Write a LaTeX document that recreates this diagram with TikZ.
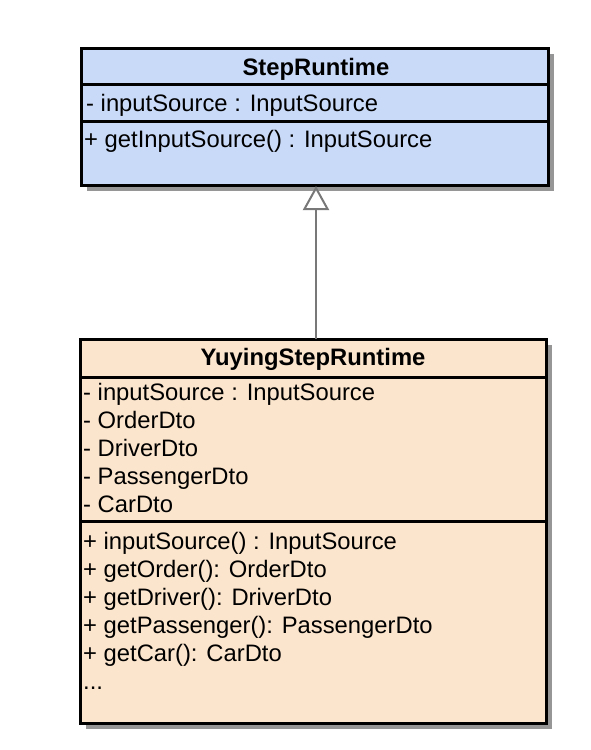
\documentclass[tikz,border=0pt]{standalone}
\usepackage{fontspec}
\setmainfont{Liberation Sans}
\usetikzlibrary{arrows.meta}
\definecolor{topfill}{RGB}{201,218,248}
\definecolor{botfill}{RGB}{252,229,205}
\definecolor{shadowc}{RGB}{150,150,150}
\definecolor{linkc}{RGB}{120,120,120}
\begin{document}
\begin{tikzpicture}[x=1pt,y=-1pt,
  classbox/.style={draw=black,line width=3pt,inner sep=0pt,outer sep=0pt,anchor=north west},
  shadowbox/.style={fill=shadowc,draw=none,inner sep=0pt,outer sep=0pt,anchor=north west},
  member/.style={anchor=base west,inner sep=0pt,font=\fontsize{23.8}{28}\selectfont},
  title/.style={anchor=base,inner sep=0pt,font=\fontsize{23.8}{28}\selectfont\bfseries},
  sep/.style={line width=3pt}]
\useasboundingbox (0,0) rectangle (590,750);
\fill[white] (0,0) rectangle (590,750);
% shadows
\node[shadowbox,minimum width=467pt,minimum height=137pt] (topsh) at (87,54) {};
\node[shadowbox,minimum width=466pt,minimum height=384pt] (botsh) at (86,345) {};
% top class
\node[classbox,fill=topfill,minimum width=467pt,minimum height=137pt] (top) at (81,48) {};
\coordinate (t1) at (81,84); \coordinate (t1e) at (548,84);
\coordinate (t2) at (81,121); \coordinate (t2e) at (548,121);
\draw[sep] (t1) -- (t1e);
\draw[sep] (t2) -- (t2e);
\node[title] (topname) at (316,75) {StepRuntime};
\node[member] (ta1) at (86,111) {- inputSource : InputSource};
\node[member] (tm1) at (84,147) {+ getInputSource() : InputSource};
% bottom class
\node[classbox,fill=botfill,minimum width=466pt,minimum height=384pt] (bot) at (80,339) {};
\coordinate (b1) at (80,377); \coordinate (b1e) at (546,377);
\coordinate (b2) at (80,521); \coordinate (b2e) at (546,521);
\draw[sep] (b1) -- (b1e);
\draw[sep] (b2) -- (b2e);
\node[title] (botname) at (313,365) {YuyingStepRuntime};
\node[member] (ba1) at (83,400) {- inputSource : InputSource};
\node[member] (ba2) at (83,428) {- OrderDto};
\node[member] (ba3) at (83,456) {- DriverDto};
\node[member] (ba4) at (83,484) {- PassengerDto};
\node[member] (ba5) at (83,512) {- CarDto};
\node[member] (bm1) at (83,549) {+ inputSource() : InputSource};
\node[member] (bm2) at (83,577) {+ getOrder(): OrderDto};
\node[member] (bm3) at (83,605) {+ getDriver(): DriverDto};
\node[member] (bm4) at (83,633) {+ getPassenger(): PassengerDto};
\node[member] (bm5) at (83,661) {+ getCar(): CarDto};
\node[member] (bm6) at (83,689) {...};
% generalization
\coordinate (gfrom) at (316,339);
\coordinate (gto) at (316,186);
\draw[linkc,line width=2.5pt,-{Triangle[open,length=24pt,width=26pt,line width=2pt,fill=white]}] (gfrom) -- (gto);
\end{tikzpicture}
\end{document}
